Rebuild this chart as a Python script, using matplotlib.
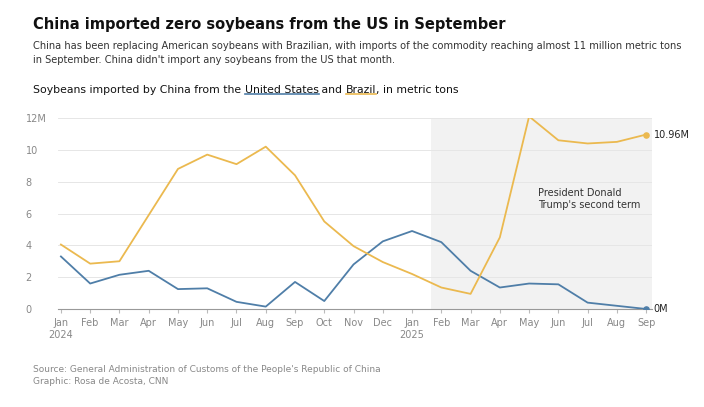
import matplotlib.pyplot as plt
import numpy as np

months = ["Jan\n2024", "Feb", "Mar", "Apr", "May", "Jun", "Jul", "Aug", "Sep", "Oct", "Nov", "Dec",
          "Jan\n2025", "Feb", "Mar", "Apr", "May", "Jun", "Jul", "Aug", "Sep"]
us = [3.3, 1.6, 2.15, 2.4, 1.25, 1.3, 0.45, 0.15, 1.7, 0.5, 2.8, 4.25,
      4.9, 4.2, 2.4, 1.35, 1.6, 1.55, 0.4, 0.2, 0.0]
brazil = [4.05, 2.85, 3.0, 5.9, 8.8, 9.7, 9.1, 10.2, 8.4, 5.5, 3.95, 2.95,
          2.2, 1.35, 0.95, 4.5, 12.1, 10.6, 10.4, 10.5, 10.96]
yticks = [0, 2, 4, 6, 8, 10, 12]
ylabels = ["0", "2", "4", "6", "8", "10", "12M"]

US_C = "#4f7ea8"
BR_C = "#ebb94f"
GREY = "#888888"

fig = plt.figure(figsize=(7.04, 4.07), dpi=100)
ax = fig.add_axes([58/704, 1-309/407, (652-58)/704, (309-118)/407])
x = np.arange(len(months))

ax.axvspan(12.65, 20.3, color="#f2f2f2", zorder=0, lw=0)
ax.plot(x, us, color=US_C, lw=1.3, zorder=3)
ax.plot(x, brazil, color=BR_C, lw=1.3, zorder=3)
ax.scatter([x[-1]], [brazil[-1]], color=BR_C, s=14, zorder=4)
ax.scatter([x[-1]], [us[-1]], color=US_C, s=14, zorder=4)
ax.text(x[-1] + 0.25, brazil[-1], "10.96M", fontsize=7, va="center", color="#222222")
ax.text(x[-1] + 0.25, us[-1], "0M", fontsize=7, va="center", color="#222222")
ax.text(16.3, 6.9, "President Donald\nTrump's second term", fontsize=7, color="#333333", va="center")

ax.set_xlim(-0.1, 20.2)
ax.set_ylim(0, 12)
ax.set_yticks(yticks)
ax.set_yticklabels(ylabels)
ax.set_xticks(x)
ax.set_xticklabels(months)
ax.tick_params(axis="y", length=0, labelsize=7, labelcolor=GREY, pad=4)
ax.tick_params(axis="x", length=3, labelsize=7, labelcolor=GREY, color="#bbbbbb")
for lab in ax.get_yticklabels():
    lab.set_horizontalalignment("left")
    lab.set_x(-0.045)
ax.grid(axis="y", color="#e6e6e6", lw=0.7)
ax.set_axisbelow(True)
for s in ["top", "right", "left"]:
    ax.spines[s].set_visible(False)
ax.spines["bottom"].set_color("#999999")

fig.text(33/704, 1-24/407, "China imported zero soybeans from the US in September",
         fontsize=10.5, fontweight="bold", va="center", color="#111111")
fig.text(33/704, 1-53/407,
         "China has been replacing American soybeans with Brazilian, with imports of the commodity reaching almost 11 million metric tons\n"
         "in September. China didn't import any soybeans from the US that month.",
         fontsize=7.15, va="center", color="#333333", linespacing=1.55)

# subtitle with underlined series names
fig.canvas.draw()
r = fig.canvas.get_renderer()
parts = [("Soybeans imported by China from the ", None), ("United States", US_C), (" and ", None),
         ("Brazil", BR_C), (", in metric tons", None)]
xp = 33
for txt, col in parts:
    t = fig.text(xp/704, 1-90/407, txt, fontsize=7.8, va="center", color="#111111")
    bb = t.get_window_extent(r)
    if col:
        fig.add_artist(plt.Line2D([bb.x0/704, bb.x1/704], [(bb.y0+1.5)/407]*2, color=col, lw=1.2))
    xp = bb.x1

fig.text(33/704, 1-369/407, "Source: General Administration of Customs of the People's Republic of China",
         fontsize=6.5, va="center", color=GREY)
fig.text(33/704, 1-381/407, "Graphic: Rosa de Acosta, CNN", fontsize=6.5, va="center", color=GREY)

fig.savefig("out.png", dpi=100)
